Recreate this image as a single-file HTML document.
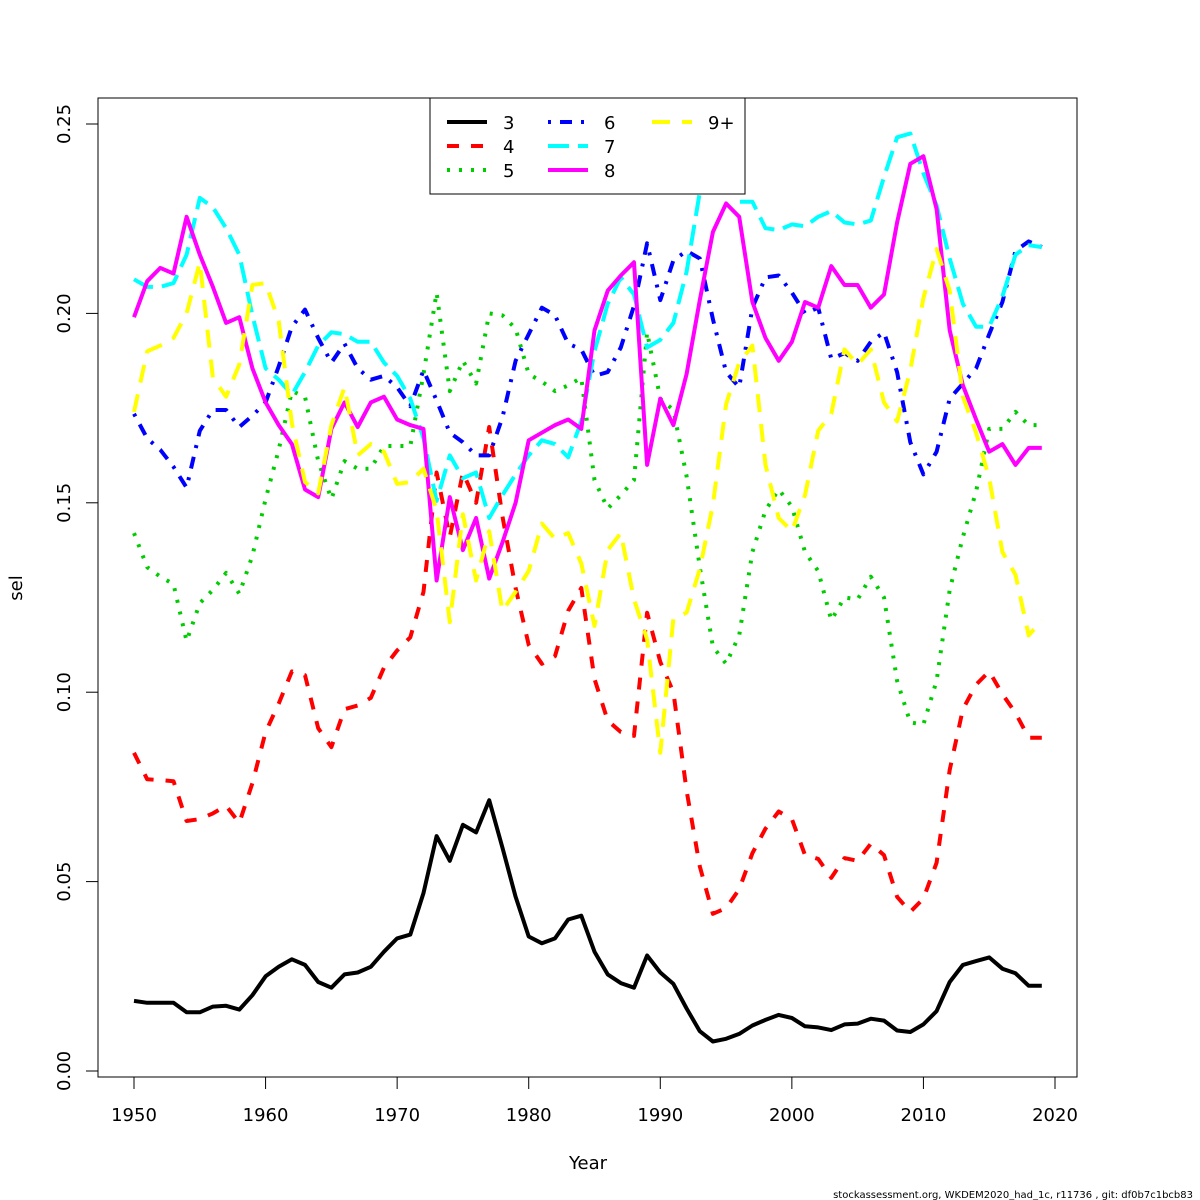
<!DOCTYPE html>
<html><head><meta charset="utf-8"><style>
html,body{margin:0;padding:0;background:#fff;}
svg{display:block;font-family:"DejaVu Sans","Liberation Sans",sans-serif;}
</style></head><body>
<svg id="chart" width="1200" height="1200" viewBox="0 0 1200 1200" xmlns="http://www.w3.org/2000/svg">
<rect width="1200" height="1200" fill="#fff"/>
<g id="series"></g>
<g id="axes"></g>
<rect x="98" y="98" width="979" height="979" fill="none" stroke="#000" stroke-width="1"/>
<text x="588" y="1169" font-size="18" text-anchor="middle">Year</text>
<text x="22" y="588" font-size="18" text-anchor="middle" transform="rotate(-90 22 588)">sel</text>
<text x="1193" y="1198" font-size="10" text-anchor="end">stockassessment.org, WKDEM2020_had_1c, r11736 , git: df0b7c1bcb83</text>
<g id="legend">
<rect x="430" y="98" width="315" height="96" fill="#fff" stroke="#000" stroke-width="1"/>
</g>
</svg>
<script>
const years = [];
for (let y = 1950; y <= 2019; y++) years.push(y);
const seriesNames = ["3","4","5","6","7","8","9+"];
const sel3 = [.0185,.018,.018,.018,.0155,.0155,.017,.0172,.0162,.020,.025,.0275,.0295,.028,.0235,.022,.0255,.026,.0275,.0315,.035,.036,.047,.062,.0555,.065,.063,.0715,.059,.046,.0355,.0337,.035,.040,.041,.0315,.0255,.0232,.022,.0305,.026,.023,.0165,.0105,.0078,.0085,.0098,.012,.0135,.0148,.014,.0118,.0115,.0108,.0123,.0125,.0138,.0133,.0107,.0103,.0123,.0158,.0235,.028,.029,.030,.027,.0258,.0225,.0225];
const sel4 = [.084,.077,.0768,.0765,.066,.0665,.068,.070,.0655,.076,.0895,.097,.1055,.1045,.0905,.0855,.0955,.0965,.0985,.1065,.111,.1145,.1265,.158,.141,.158,.150,.170,.1465,.1275,.1125,.1075,.1095,.1215,.1275,.1035,.0925,.0895,.0885,.121,.108,.100,.074,.054,.0415,.043,.048,.0575,.064,.0685,.0665,.057,.056,.051,.0562,.0555,.060,.057,.046,.042,.0455,.055,.0795,.0955,.102,.1055,.0995,.0945,.088,.088];
const sel5 = [.142,.133,.1305,.1285,.1135,.1235,.127,.1315,.126,.136,.151,.164,.1795,.178,.161,.151,.161,.159,.159,.165,.165,.165,.184,.2055,.1795,.1875,.1815,.200,.1995,.196,.184,.182,.1795,.181,.183,.156,.1485,.152,.156,.195,.1775,.1745,.157,.133,.112,.1075,.115,.137,.148,.1535,.149,.137,.132,.119,.125,.1245,.1305,.125,.103,.092,.0915,.103,.127,.141,.153,.1695,.1695,.174,.1705,.1705];
const sel6 = [.1735,.167,.164,.1595,.154,.169,.1745,.1745,.170,.173,.1765,.186,.1965,.201,.1935,.187,.192,.1855,.1825,.1835,.1805,.1755,.185,.177,.1685,.166,.1625,.1625,.1725,.1875,.1945,.2015,.1995,.192,.1905,.1835,.1845,.191,.202,.2185,.2035,.214,.2165,.2145,.1985,.1845,.1805,.2015,.2095,.210,.2055,.200,.2015,.188,.1895,.1875,.1925,.195,.1845,.166,.1575,.1635,.1775,.1815,.1855,.1945,.203,.2165,.219,.2175];
const sel7 = [.209,.207,.207,.208,.2155,.2305,.228,.2225,.2155,.1995,.1855,.1825,.1785,.1845,.1915,.195,.1945,.1925,.1925,.187,.1835,.1775,.167,.1505,.1625,.1565,.158,.146,.152,.1575,.1625,.1665,.1655,.162,.1715,.190,.2025,.2095,.205,.191,.193,.1975,.211,.232,.2505,.2395,.2295,.2295,.2225,.222,.2235,.223,.2255,.227,.224,.2235,.2245,.236,.2465,.2475,.237,.2285,.2145,.2025,.1965,.1965,.2045,.2155,.218,.2175];
const sel8 = [.199,.2085,.212,.2105,.2255,.2155,.207,.1975,.199,.1855,.1765,.1705,.1655,.1535,.1515,.1695,.1765,.170,.1765,.178,.172,.1705,.1695,.1295,.1515,.1375,.146,.130,.1395,.150,.1665,.1685,.1705,.172,.1695,.1955,.206,.210,.2135,.160,.1775,.1705,.184,.2035,.2215,.229,.2255,.203,.1935,.1875,.1925,.203,.2015,.2125,.2075,.2075,.2015,.205,.224,.2395,.2415,.2275,.1955,.181,.172,.1635,.1655,.160,.1645,.1645];
const sel9 = [.174,.190,.1915,.1935,.200,.2135,.183,.178,.1865,.2075,.208,.198,.171,.1555,.1525,.1705,.1805,.1625,.1655,.1635,.155,.1555,.159,.148,.1185,.147,.1295,.1425,.1215,.1265,.132,.1445,.1405,.142,.134,.1175,.1375,.142,.1245,.114,.084,.1195,.121,.1325,.1495,.176,.187,.1915,.160,.146,.1425,.152,.169,.1735,.1905,.1865,.1905,.1765,.1715,.185,.204,.217,.206,.178,.1685,.1565,.137,.131,.115,.119];
const xTicks = [1950,1960,1970,1980,1990,2000,2010,2020];
const yTicks = [0,0.05,0.10,0.15,0.20,0.25];
const yTickLabels = ["0.00","0.05","0.10","0.15","0.20","0.25"];

const NS = "http://www.w3.org/2000/svg";
function xs(y){ return 134 + (y - 1950) * (1055 - 134) / 70; }
function ys(v){ return 1071 - v * (1071 - 124) / 0.25; }
const allSeries = [sel3, sel4, sel5, sel6, sel7, sel8, sel9];
const colors = ["#000000","#ff0000","#00cd00","#0000ff","#00ffff","#ff00ff","#ffff00"];
const dashes = ["", "12 12", "3 9", "3 9 12 9", "21 9", "", "18 12"];
const keys = ["3","4","5","6","7","8","9plus"];

const gS = document.getElementById("series");
allSeries.forEach((arr, i) => {
  const p = document.createElementNS(NS, "path");
  let d = "";
  arr.forEach((v, j) => { d += (j ? "L" : "M") + xs(years[j]).toFixed(1) + "," + ys(v).toFixed(1); });
  p.setAttribute("d", d);
  p.setAttribute("fill", "none");
  p.setAttribute("stroke", colors[i]);
  p.setAttribute("stroke-width", "4");
  p.setAttribute("stroke-linejoin", "round");
  if (dashes[i]) p.setAttribute("stroke-dasharray", dashes[i]);
  
  
  gS.appendChild(p);
});

const gA = document.getElementById("axes");
xTicks.forEach(t => {
  const l = document.createElementNS(NS, "line");
  l.setAttribute("x1", xs(t)); l.setAttribute("x2", xs(t));
  l.setAttribute("y1", 1077); l.setAttribute("y2", 1089);
  l.setAttribute("stroke", "#000");
  
  
  gA.appendChild(l);
  const tx = document.createElementNS(NS, "text");
  tx.setAttribute("x", xs(t)); tx.setAttribute("y", 1121);
  tx.setAttribute("font-size", "18"); tx.setAttribute("text-anchor", "middle");
  tx.textContent = t;
  
  
  gA.appendChild(tx);
});
yTicks.forEach((t, i) => {
  const l = document.createElementNS(NS, "line");
  l.setAttribute("x1", 86); l.setAttribute("x2", 98);
  l.setAttribute("y1", ys(t)); l.setAttribute("y2", ys(t));
  l.setAttribute("stroke", "#000");
  
  
  gA.appendChild(l);
  const tx = document.createElementNS(NS, "text");
  const yy = ys(t);
  tx.setAttribute("x", 70); tx.setAttribute("y", yy);
  tx.setAttribute("font-size", "18"); tx.setAttribute("text-anchor", "middle");
  tx.setAttribute("transform", "rotate(-90 70 " + yy + ")");
  tx.textContent = yTickLabels[i];
  
  
  gA.appendChild(tx);
});

const gL = document.getElementById("legend");
const colX = [447, 548, 652];
const rowY = [122, 146, 170];
seriesNames.forEach((n, i) => {
  const c = Math.floor(i / 3), r = i % 3;
  const l = document.createElementNS(NS, "line");
  l.setAttribute("x1", colX[c]); l.setAttribute("x2", colX[c] + 40);
  l.setAttribute("y1", rowY[r]); l.setAttribute("y2", rowY[r]);
  l.setAttribute("stroke", colors[i]); l.setAttribute("stroke-width", "4");
  if (dashes[i]) l.setAttribute("stroke-dasharray", dashes[i]);
  
  
  gL.appendChild(l);
  const tx = document.createElementNS(NS, "text");
  tx.setAttribute("x", colX[c] + 56); tx.setAttribute("y", rowY[r] + 7);
  tx.setAttribute("font-size", "18");
  tx.textContent = n;
  
  
  gL.appendChild(tx);
});
</script>
</body></html>
